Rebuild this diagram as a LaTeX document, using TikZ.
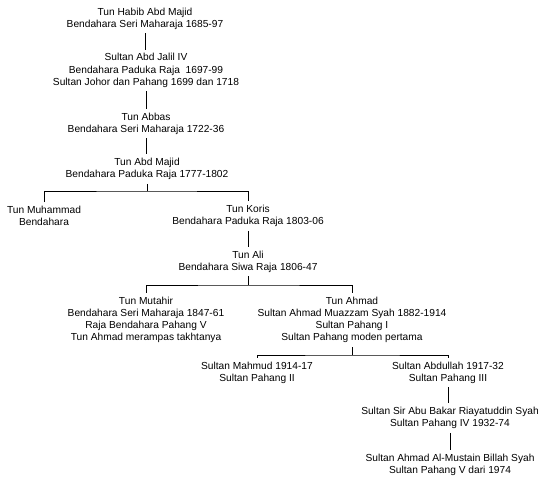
\documentclass[tikz,border=0pt]{standalone}
\usepackage{fontspec}
\setmainfont{Liberation Sans}
\usepackage{tikz}
\usetikzlibrary{calc,positioning}

\begin{document}
\begin{tikzpicture}[x=1pt,y=-1pt,line width=1pt,
	person/.style={align=center,inner sep=3.5pt,font=\fontsize{10.2}{12.2}\selectfont}]
				\useasboundingbox (0,0) rectangle (541,483);
				\node[person] (habib) at (145,18.5) {Tun Habib Abd Majid\\Bendahara Seri Maharaja 1685-97};
				\node[person] (jalil) at (146,70.5) {Sultan Abd Jalil IV\\Bendahara Paduka Raja\ \ 1697-99\\Sultan Johor dan Pahang 1699 dan 1718};
				\node[person] (abbas) at (146,123.5) {Tun Abbas\\Bendahara Seri Maharaja 1722-36};
				\node[person] (majid) at (147,169) {Tun Abd Majid\\Bendahara Paduka Raja 1777-1802};
				\node[person] (muhammad) at (44,216) {Tun Muhammad\\Bendahara};
				\node[person] (koris) at (248,216) {Tun Koris\\Bendahara Paduka Raja 1803-06};
				\node[person] (ali) at (248,261.5) {Tun Ali\\Bendahara Siwa Raja 1806-47};
				\node[person] (mutahir) at (146,320) {Tun Mutahir\\Bendahara Seri Maharaja 1847-61\\Raja Bendahara Pahang V\\Tun Ahmad merampas takhtanya};
				\node[person] (ahmad) at (352,320) {Tun Ahmad\\Sultan Ahmad Muazzam Syah 1882-1914\\Sultan Pahang I\\Sultan Pahang moden pertama};
				\node[person] (mahmud) at (257,372.5) {Sultan Mahmud 1914-17\\Sultan Pahang II};
				\node[person] (abdullah) at (448,372.5) {Sultan Abdullah 1917-32\\Sultan Pahang III};
				\node[person] (abubakar) at (450,418) {Sultan Sir Abu Bakar Riayatuddin Syah\\Sultan Pahang IV 1932-74};
				\node[person] (mustain) at (450,465) {Sultan Ahmad Al-Mustain Billah Syah\\Sultan Pahang V dari 1974};
				\coordinate (b1) at (147,191);
				\coordinate (b2) at (248,285);
				\coordinate (b3) at (352,355);
				\draw[-] (habib.south) to (habib.south |- jalil.north);
				\draw[-] (jalil.south) to (jalil.south |- abbas.north);
				\draw[-] (abbas.south) to (abbas.south |- majid.north);
				\draw[-] (majid.south) to (b1); %anak Tun Abd Majid
				\draw[-] (muhammad.north) |- (b1) -| (koris.north);
				\draw[-] (koris.south) to (koris.south |- ali.north);
				\draw[-] (ali.south) to (b2); %anak Tun Ali
				\draw[-] (mutahir.north) |- (b2) -| (ahmad.north);
				\draw[-] (ahmad.south) to (b3); %anak Tun Ahmad
				\draw[-] (mahmud.north) |- (b3) -| (abdullah.north);
				\draw[-] (abdullah.south) to (abdullah.south |- abubakar.north);
				\draw[-] (abubakar.south) to (abubakar.south |- mustain.north);
	\end{tikzpicture}
\end{document}
